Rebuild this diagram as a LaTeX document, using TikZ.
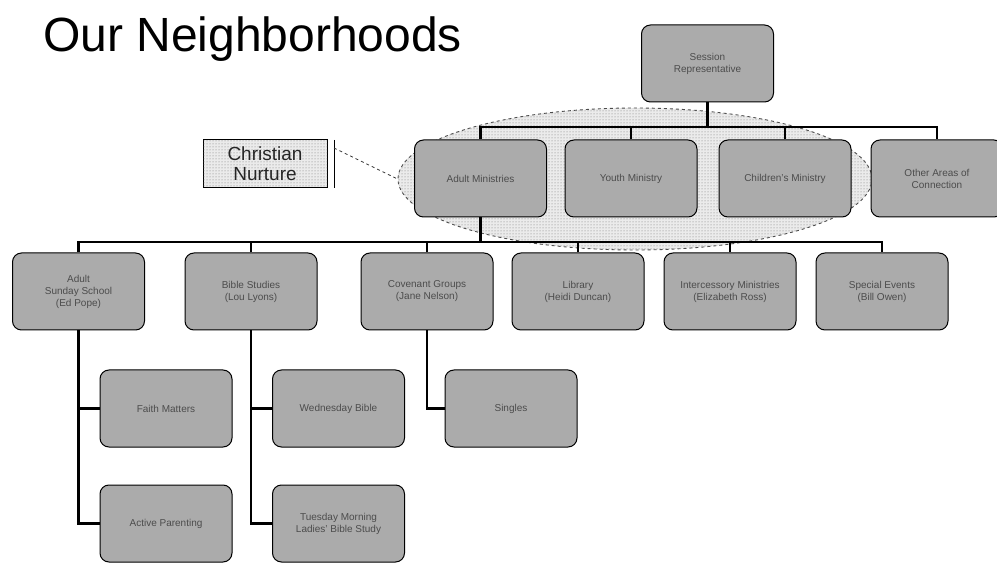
\documentclass[tikz,border=0pt]{standalone}
\usepackage{fontspec}
\setmainfont{Liberation Sans}
\usetikzlibrary{shapes.geometric,patterns}
\begin{document}
\begin{tikzpicture}[x=1pt,y=-1pt,
  box/.style={draw=black, line width=1pt, rounded corners=9pt, fill=black!33,
    minimum width=132pt, minimum height=77pt, align=center,
    font=\fontsize{10}{12}\selectfont, text=black!70, inner sep=2pt},
  bus/.style={line width=2.3pt, black},
  cloud/.style={ellipse, draw=black!70, dashed, line width=0.9pt, fill=black!8,
    postaction={pattern=dots, pattern color=black!55},
    minimum width=474pt, minimum height=142pt, inner sep=0pt},
  callout/.style={draw=black, line width=1pt, fill=black!8,
    postaction={pattern=dots, pattern color=black!55}, minimum width=124pt,
    minimum height=48pt, align=center, font=\fontsize{19}{20}\selectfont, text=black!85, inner sep=1pt},
]
\useasboundingbox (0,0) rectangle (997,564);

% title
\node[anchor=base west, inner sep=0pt, font=\fontsize{48}{56}\selectfont] (title) at (43,52) {Our Neighborhoods};

% Christian nurture grouping
\node[cloud] (grp) at (635,179) {};
\node[callout] (cn) at (265,164) {Christian\\Nurture};
\coordinate (cnr1) at (334,140);
\coordinate (cnr2) at (334,188);
\draw[line width=1pt] (cnr1) -- (cnr2);
\coordinate (cnt) at (334,148);
\draw[dashed, line width=0.8pt, black!80] (cnt) -- (grp.west);

% level 0
\node[box] (top) at (707.5,63.5) {Session\\Representative};

% level 1
\node[box] (adult) at (480.5,178.5) {Adult Ministries};
\node[box] (youth) at (631,178.5) {Youth Ministry};
\node[box] (child) at (785,178.5) {Children's Ministry};
\node[box] (other) at (937,178.5) {Other Areas of\\Connection};

% level 2
\node[box] (s1) at (78.5,291.5) {Adult\\Sunday School\\(Ed Pope)};
\node[box] (s2) at (251,291.5) {Bible Studies\\(Lou Lyons)};
\node[box] (s3) at (427,291.5) {Covenant Groups\\(Jane Nelson)};
\node[box] (s4) at (578,291.5) {Library\\(Heidi Duncan)};
\node[box] (s5) at (730,291.5) {Intercessory Ministries\\(Elizabeth Ross)};
\node[box] (s6) at (882,291.5) {Special Events\\(Bill Owen)};

% level 3
\node[box] (a3) at (166,408.5) {Faith Matters};
\node[box] (a4) at (166,523.5) {Active Parenting};
\node[box] (b3) at (338.5,408.5) {Wednesday Bible};
\node[box] (b4) at (338.5,523.5) {Tuesday Morning\\Ladies' Bible Study};
\node[box] (c3) at (511,408.5) {Singles};

% connectors
\coordinate (bus1) at (0,127);
\coordinate (bus2) at (0,242);
\draw[bus] (top.south) -- (top.south |- bus1);
\draw[bus] (adult.north) -- (adult.north |- bus1) -- (other.north |- bus1) -- (other.north);
\draw[bus] (youth.north) -- (youth.north |- bus1);
\draw[bus] (child.north) -- (child.north |- bus1);

\draw[bus] (adult.south) -- (adult.south |- bus2);
\draw[bus] (s1.north) -- (s1.north |- bus2) -- (s6.north |- bus2) -- (s6.north);
\draw[bus] (s2.north) -- (s2.north |- bus2);
\draw[bus] (s3.north) -- (s3.north |- bus2);
\draw[bus] (s4.north) -- (s4.north |- bus2);
\draw[bus] (s5.north) -- (s5.north |- bus2);

\draw[bus] (s1.south) |- (a4.west);
\draw[bus] (s1.south |- a3.west) -- (a3.west);
\draw[bus] (s2.south) |- (b4.west);
\draw[bus] (s2.south |- b3.west) -- (b3.west);
\draw[bus] (s3.south) |- (c3.west);
\end{tikzpicture}
\end{document}
